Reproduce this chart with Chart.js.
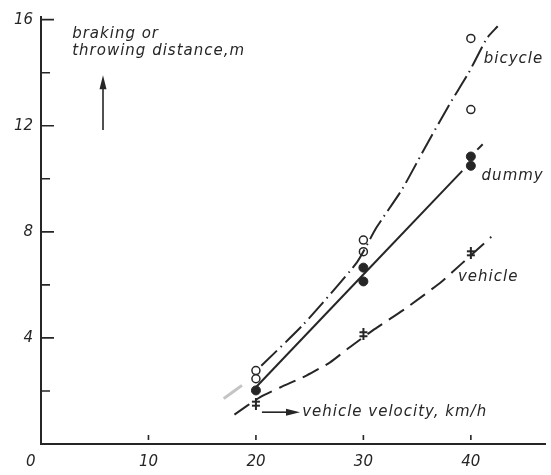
<!DOCTYPE html>
<html lang="en">
<head>
  <meta charset="UTF-8" />
  <title>Braking and throwing distance</title>
  <script src="https://cdn.jsdelivr.net/npm/chart.js"></script>
  <style>
    body { margin: 0; background: #fff; }
    #wrap { width: 551px; height: 475px; position: relative; }
  </style>
</head>
<body>
  <div id="wrap"><canvas id="distChart"></canvas></div>

  <script>
    // measured points (vehicle velocity km/h -> distance m)
    const bicycleX = [20, 20, 30, 30, 40, 40];
    const bicycleY = [2.77, 2.46, 7.69, 7.25, 15.29, 12.61];
    const dummyX = [20, 30, 30, 40, 40];
    const dummyY = [2.02, 6.65, 6.13, 10.84, 10.49];
    const vehicleX = [20, 30, 40];
    const vehicleY = [1.52, 4.14, 7.19];

    // hand drawn curves
    const bicycleCurveX = [20.5, 24.4, 29.4, 31.2, 33.6, 35.5, 38.0, 39.8, 41.5, 42.5];
    const bicycleCurveY = [2.95, 4.5, 6.85, 8.15, 9.6, 11.0, 12.8, 14.0, 15.3, 15.75];
    const dummyCurveX = [20, 39.2];
    const dummyCurveY = [2.14, 10.3];
    const dummyTailX = [40.6, 41.1];
    const dummyTailY = [11.1, 11.3];
    const vehicleCurveX = [18, 20.4, 22.3, 24.7, 26.9, 28.7, 31, 34, 37.3, 39.2, 41.9];
    const vehicleCurveY = [1.11, 1.77, 2.14, 2.58, 3.08, 3.64, 4.32, 5.13, 6.13, 6.82, 7.81];
    const fadedX = [17.0, 18.7];
    const fadedY = [1.71, 2.21];

    // axes
    const xTicks = [10, 20, 30, 40];
    const yMajorTicks = [4, 8, 12, 16];
    const yMinorTicks = [2, 6, 10, 14];

    const ink = '#262626';
    const font = "italic 15px 'DejaVu Sans'";

    const pts = (xs, ys) => xs.map((x, i) => ({ x, y: ys[i] }));

    // double dagger marker for the vehicle
    const dagger = document.createElement('canvas');
    dagger.width = 10; dagger.height = 12;
    (function () {
      const c = dagger.getContext('2d');
      c.strokeStyle = ink; c.lineWidth = 2;
      c.beginPath();
      c.moveTo(5, 0); c.lineTo(5, 12);
      c.moveTo(1, 4); c.lineTo(9, 4);
      c.moveTo(1, 8); c.lineTo(9, 8);
      c.stroke();
    })();

    const labels = [
      { text: 'bicycle', x: 41.2, y: 14.53 },
      { text: 'dummy', x: 41.0, y: 10.09 },
      { text: 'vehicle', x: 38.8, y: 6.31 },
      { text: 'vehicle velocity, km/h', x: 24.3, y: 1.2 },
      { text: 'braking or', x: 2.9, y: 15.45 },
      { text: 'throwing distance,m', x: 2.9, y: 14.8 }
    ];

    function arrow(ctx, x1, y1, x2, y2) {
      const a = Math.atan2(y2 - y1, x2 - x1);
      ctx.beginPath();
      ctx.moveTo(x1, y1);
      ctx.lineTo(x2 - 10 * Math.cos(a), y2 - 10 * Math.sin(a));
      ctx.stroke();
      ctx.beginPath();
      ctx.moveTo(x2, y2);
      ctx.lineTo(x2 - 14 * Math.cos(a) + 3.5 * Math.sin(a), y2 - 14 * Math.sin(a) - 3.5 * Math.cos(a));
      ctx.lineTo(x2 - 14 * Math.cos(a) - 3.5 * Math.sin(a), y2 - 14 * Math.sin(a) + 3.5 * Math.cos(a));
      ctx.closePath();
      ctx.fill();
    }

    const decor = {
      id: 'decor',
      afterDraw(chart) {
        const { ctx, scales: { x, y } } = chart;
        const left = x.getPixelForValue(0);
        const bottom = y.getPixelForValue(0);
        ctx.save();
        ctx.strokeStyle = ink;
        ctx.fillStyle = ink;
        ctx.lineWidth = 1.6;

        // tick marks pointing into the plot
        ctx.beginPath();
        yMajorTicks.forEach(v => {
          const py = y.getPixelForValue(v);
          ctx.moveTo(left, py); ctx.lineTo(left + 13, py);
        });
        yMinorTicks.forEach(v => {
          const py = y.getPixelForValue(v);
          ctx.moveTo(left, py); ctx.lineTo(left + 9, py);
        });
        xTicks.forEach(v => {
          const px = x.getPixelForValue(v);
          ctx.moveTo(px, bottom - 9); ctx.lineTo(px, bottom - 4);
        });
        ctx.stroke();

        // text labels
        ctx.font = font;
        ctx.letterSpacing = '1px';
        ctx.textBaseline = 'middle';
        ctx.textAlign = 'left';
        labels.forEach(l => {
          ctx.fillText(l.text, x.getPixelForValue(l.x), y.getPixelForValue(l.y));
        });
        ctx.letterSpacing = '0px';
        ctx.fillText('0', left - 15, bottom + 18);

        // arrows
        ctx.lineWidth = 1.6;
        arrow(ctx, x.getPixelForValue(20.56), y.getPixelForValue(1.2),
                   x.getPixelForValue(24.1), y.getPixelForValue(1.2));
        arrow(ctx, x.getPixelForValue(5.77), y.getPixelForValue(11.84),
                   x.getPixelForValue(5.77), y.getPixelForValue(13.9));
        ctx.restore();
      }
    };

    const line = (data, dash, color, width) => ({
      data, showLine: true, pointRadius: 0, borderColor: color || ink,
      borderWidth: width || 2, borderDash: dash, tension: 0.2, fill: false
    });

    new Chart(document.getElementById('distChart'), {
      type: 'scatter',
      data: {
        datasets: [
          line(pts(fadedX, fadedY), [], '#c4c4c4', 3),
          line(pts(bicycleCurveX, bicycleCurveY), [22, 5, 1.5, 5]),
          line(pts(dummyCurveX, dummyCurveY), []),
          line(pts(dummyTailX, dummyTailY), []),
          line(pts(vehicleCurveX, vehicleCurveY), [18, 8]),
          { label: 'bicycle', data: pts(bicycleX, bicycleY), pointStyle: 'circle', pointRadius: 4,
            backgroundColor: '#fff', borderColor: ink, borderWidth: 1.5 },
          { label: 'dummy', data: pts(dummyX, dummyY), pointStyle: 'circle', pointRadius: 4.5,
            backgroundColor: ink, borderColor: ink, borderWidth: 1 },
          { label: 'vehicle', data: pts(vehicleX, vehicleY), pointStyle: dagger }
        ]
      },
      options: {
        responsive: true,
        maintainAspectRatio: false,
        animation: false,
        layout: { padding: { top: 13, right: 6, left: 0, bottom: 0 } },
        plugins: { legend: { display: false }, tooltip: { enabled: false } },
        scales: {
          x: {
            type: 'linear', min: 0, max: 46.9,
            afterFit: s => { s.height = 31; },
            grid: { display: false, drawTicks: false },
            border: { display: true, color: ink, width: 2 },
            ticks: {
              stepSize: 10, includeBounds: false, padding: 9, color: ink,
              font: { family: 'DejaVu Sans', size: 15, style: 'italic' },
              callback: v => (v === 0 ? '' : v)
            }
          },
          y: {
            type: 'linear', min: 0, max: 16.1,
            afterFit: s => { s.width = 41; },
            grid: { display: false, drawTicks: false },
            border: { display: true, color: ink, width: 2 },
            ticks: {
              stepSize: 4, includeBounds: false, padding: 8, color: ink,
              font: { family: 'DejaVu Sans', size: 15, style: 'italic' },
              callback: v => (v === 0 ? '' : v)
            }
          }
        }
      },
      plugins: [decor]
    });
  </script>
</body>
</html>
